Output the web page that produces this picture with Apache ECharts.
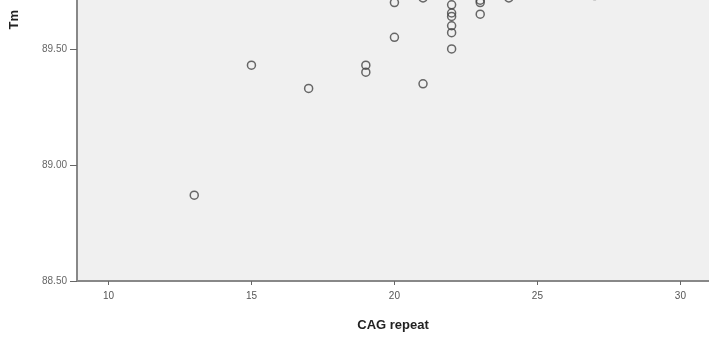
<!DOCTYPE html>
<html>
<head>
<meta charset="utf-8">
<script src="https://cdn.jsdelivr.net/npm/echarts@6/dist/echarts.min.js"></script>
<style>html,body{margin:0;padding:0;background:#fff}#c{width:709px;height:338px}</style>
</head>
<body>
<div id="c"></div>
<script>
// CAG repeat values
const cagRepeat = [13, 15, 17, 19, 19, 20, 20, 21, 21, 22, 22, 22, 22, 22, 22, 23, 23, 23, 24, 27];
// Tm values
const tmValues = [88.87, 89.43, 89.33, 89.43, 89.40, 89.55, 89.70, 89.35, 89.72, 89.69, 89.655, 89.64, 89.60, 89.57, 89.50, 89.70, 89.71, 89.65, 89.72, 89.73];
const yTicks = [88.5, 89.0, 89.5];
const xTicks = [10, 15, 20, 25, 30];

const points = cagRepeat.map((x, i) => [x, tmValues[i]]);

const chart = echarts.init(document.getElementById('c'));
chart.setOption({
  animation: false,
  backgroundColor: '#ffffff',
  grid: { left: 77, right: 0, top: 0, bottom: 57, show: true, backgroundColor: '#f0f0f0', borderWidth: 0 },
  xAxis: {
    type: 'value', min: 8.9, max: 31, interval: 5,
    name: 'CAG repeat', nameLocation: 'middle', nameGap: 38,
    nameTextStyle: { fontFamily: 'Liberation Sans', fontWeight: 'bold', fontSize: 13, color: '#222' },
    axisLine: { show: true, onZero: false, lineStyle: { color: '#888', width: 2 } },
    axisTick: { show: true, length: 4, lineStyle: { color: '#666', width: 1 }, customValues: xTicks },
    axisLabel: { fontFamily: 'Liberation Sans', fontSize: 10, color: '#555', margin: 10, customValues: xTicks },
    splitLine: { show: false }
  },
  yAxis: {
    type: 'value', min: 88.5, max: 89.711, interval: 0.5,
    axisLine: { show: true, onZero: false, lineStyle: { color: '#888', width: 2 } },
    axisTick: { show: true, length: 7, lineStyle: { color: '#666', width: 1 }, customValues: yTicks },
    axisLabel: { fontFamily: 'Liberation Sans', fontSize: 10, color: '#666', margin: 10, customValues: yTicks,
      formatter: v => v.toFixed(2) },
    splitLine: { show: false }
  },
  graphic: [{
    type: 'text', left: 8, top: 10, rotation: Math.PI / 2,
    style: { text: 'Tm', font: 'bold 13px "Liberation Sans"', fill: '#222' }
  }],
  series: [{
    type: 'scatter', data: points, symbol: 'circle', symbolSize: 8, clip: false,
    itemStyle: { color: 'rgba(0,0,0,0)', borderColor: '#444', borderWidth: 1.5 }
  }]
});
</script>
</body>
</html>
